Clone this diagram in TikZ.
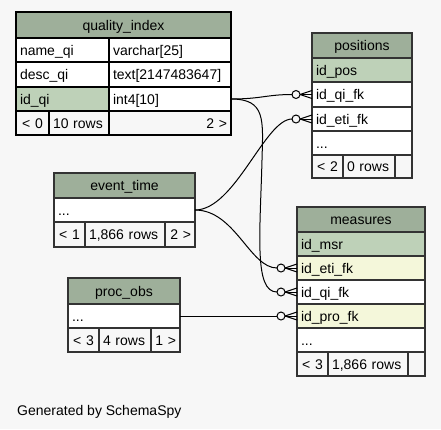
\documentclass[tikz,border=0pt]{standalone}
\usepackage{fontspec}
\setmainfont{Liberation Sans}
\definecolor{bgc}{HTML}{F7F7F7}
\definecolor{hdrc}{HTML}{9EAF9A}
\definecolor{pkc}{HTML}{BED1B8}
\definecolor{idxc}{HTML}{F4F7DA}
\definecolor{tline}{HTML}{333333}
\newcommand\tfont{\fontsize{14}{16}\selectfont}
\newcommand\mkcell[8]{%
  \pgfmathsetmacro\cw{#4-#2}\pgfmathsetmacro\ch{#5-#3}\pgfmathsetmacro\tw{#4-#2-8}%
  \pgfmathsetmacro\cx{(#2+#4)/2}\pgfmathsetmacro\cy{(#3+#5)/2}%
  \node[cellbox, fill=#6, minimum width=\cw pt, minimum height=\ch pt, text width=\tw pt, #7] (#1) at (\cx,\cy) {#8};}
\newcommand\crowend[1]{%
  \draw[edge] ([xshift=-12pt]#1.west) -- ([yshift=4pt]#1.west);
  \draw[edge] ([xshift=-12pt]#1.west) -- (#1.west);
  \draw[edge] ([xshift=-12pt]#1.west) -- ([yshift=-4pt]#1.west);
  \draw[edge, fill=bgc] ([xshift=-16pt]#1.west) circle (4pt);}
\tikzset{
  cellbox/.style={rectangle, draw=tline, line width=1.2pt, inner xsep=4pt, inner ysep=0pt, outer sep=0pt, text height=11pt, text depth=1pt, font=\tfont},
  qib/.style={draw=black, line width=1.5pt},
  lft/.style={align=left},
  ctr/.style={align=center},
  rgt/.style={align=right},
  edge/.style={draw=black, line width=1pt},
}
\begin{document}
\begin{tikzpicture}[x=1pt,y=-1pt]
\fill[bgc] (0,0) rectangle (441,429);
\useasboundingbox (0,0) rectangle (441,429);
% quality_index
\mkcell{qi-h}{16}{12}{231}{38}{hdrc}{qib,ctr}{quality\_index}
\mkcell{qi-n1}{16}{38}{109}{62}{white}{qib,lft}{name\_qi}
\mkcell{qi-n2}{109}{38}{231}{62}{white}{qib,lft}{varchar[25]}
\mkcell{qi-d1}{16}{62}{109}{87}{white}{qib,lft}{desc\_qi}
\mkcell{qi-d2}{109}{62}{231}{87}{white}{qib,lft}{text[2147483647]}
\mkcell{qi-i1}{16}{87}{109}{111}{pkc}{qib,lft}{id\_qi}
\mkcell{qi-i2}{109}{87}{231}{111}{white}{qib,lft}{int4[10]}
\mkcell{qi-f1}{16}{111}{49}{135}{bgc}{qib,ctr}{< 0}
\mkcell{qi-f2}{49}{111}{109}{135}{bgc}{qib,lft}{10 rows}
\mkcell{qi-f3}{109}{111}{231}{135}{bgc}{qib,rgt}{2 >}
\draw[line width=2.5pt] (qi-h.north west) rectangle (qi-f3.south east);
% positions
\mkcell{pos-h}{312}{33}{412}{58}{hdrc}{ctr}{positions}
\mkcell{pos-id}{312}{58}{412}{82}{pkc}{lft}{id\_pos}
\mkcell{pos-qi}{312}{82}{412}{107}{white}{lft}{id\_qi\_fk}
\mkcell{pos-eti}{312}{107}{412}{131}{white}{lft}{id\_eti\_fk}
\mkcell{pos-d}{312}{131}{412}{155}{white}{lft}{...}
\mkcell{pos-f1}{312}{155}{343}{178}{bgc}{ctr}{< 2}
\mkcell{pos-f2}{343}{155}{395}{178}{bgc}{lft}{0 rows}
\mkcell{pos-f3}{395}{155}{412}{178}{bgc}{rgt}{}
% event_time
\mkcell{et-h}{54}{173}{195}{198}{hdrc}{ctr}{event\_time}
\mkcell{et-d}{54}{198}{195}{222}{white}{lft}{...}
\mkcell{et-f1}{54}{222}{85}{247}{bgc}{ctr}{< 1}
\mkcell{et-f2}{85}{222}{165}{247}{bgc}{lft}{1,866 rows}
\mkcell{et-f3}{165}{222}{195}{247}{bgc}{rgt}{2 >}
% proc_obs
\mkcell{po-h}{68}{278}{180}{304}{hdrc}{ctr}{proc\_obs}
\mkcell{po-d}{68}{304}{180}{328}{white}{lft}{...}
\mkcell{po-f1}{68}{328}{99}{352}{bgc}{ctr}{< 3}
\mkcell{po-f2}{99}{328}{151}{352}{bgc}{lft}{4 rows}
\mkcell{po-f3}{151}{328}{180}{352}{bgc}{rgt}{1 >}
% measures
\mkcell{ms-h}{297}{207}{425}{232}{hdrc}{ctr}{measures}
\mkcell{ms-id}{297}{232}{425}{256}{pkc}{lft}{id\_msr}
\mkcell{ms-eti}{297}{256}{425}{280}{idxc}{lft}{id\_eti\_fk}
\mkcell{ms-qi}{297}{280}{425}{304}{white}{lft}{id\_qi\_fk}
\mkcell{ms-pro}{297}{304}{425}{328}{idxc}{lft}{id\_pro\_fk}
\mkcell{ms-d}{297}{328}{425}{352}{white}{lft}{...}
\mkcell{ms-f1}{297}{352}{328}{376}{bgc}{ctr}{< 3}
\mkcell{ms-f2}{328}{352}{408}{376}{bgc}{lft}{1,866 rows}
\mkcell{ms-f3}{408}{352}{425}{376}{bgc}{rgt}{}
% connectors
\draw[edge] (qi-i2.east) .. controls +(30,0) and +(-25,0) .. ([xshift=-20pt]pos-qi.west);
\draw[edge] (qi-i2.east) .. controls (266,99) and (263,120) .. (262,160) .. controls (260,235) and (254,292) .. ([xshift=-20pt]ms-qi.west);
\draw[edge] (et-d.east) .. controls (235,210) and (265,119) .. ([xshift=-20pt]pos-eti.west);
\draw[edge] (et-d.east) .. controls (235,210) and (250,268) .. ([xshift=-20pt]ms-eti.west);
\draw[edge] (po-d.east) -- ([xshift=-20pt]ms-pro.west);
\crowend{pos-qi}
\crowend{pos-eti}
\crowend{ms-eti}
\crowend{ms-qi}
\crowend{ms-pro}
\node[font=\tfont, anchor=base west, inner sep=0pt] (gen) at (17,415) {Generated by SchemaSpy};
\end{tikzpicture}
\end{document}
